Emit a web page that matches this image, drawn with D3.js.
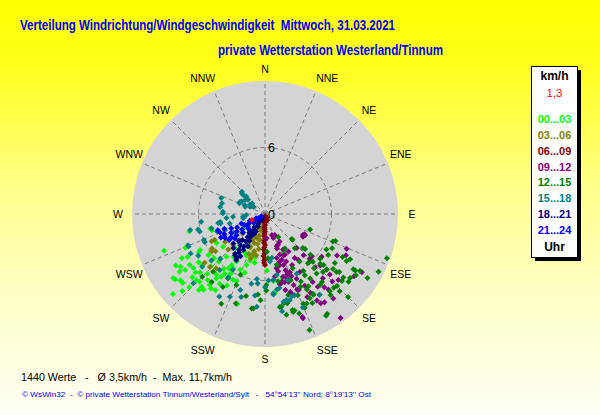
<!DOCTYPE html>
<html><head><meta charset="utf-8">
<script src="https://cdn.jsdelivr.net/npm/d3@7"></script>
<style>html,body{margin:0;padding:0;overflow:hidden}svg{display:block}</style>
</head><body>
<script>
// ---------- texts ----------
const title1 = "Verteilung Windrichtung/Windgeschwindigkeit  Mittwoch, 31.03.2021";
const title2 = "private Wetterstation Westerland/Tinnum";
const footer1 = "1440 Werte   -   \u00D8 3,5km/h  -  Max. 11,7km/h";
const footer2 = "\u00A9 WsWin32  -  \u00A9 private Wetterstation Tinnum/Westerland/Sylt   -   54\u00B054'13'' Nord; 8\u00B019'13'' Ost";
const dirNames = ["N","NNE","NE","ENE","E","ESE","SE","SSE","S","SSW","SW","WSW","W","WNW","NW","NNW"];
const ringTicks = [0, 6];
const speedMax = 12;
const legendTitle = "km/h";
const currentLabel = "1,3";
const legendFooter = "Uhr";
const legendLabels = ["00...03","03...06","06...09","09...12","12...15","15...18","18...21","21...24"];
const legendColors = ["#00ff00","#808000","#800000","#800080","#008000","#008080","#000080","#0000ff"];

// ---------- data: [direction in degrees, speed in km/h] ----------
const s00_03 = [[250,9.7],[229,11.0],[234,10.0],[232,9.7],[230,9.7],[242,8.5],[241,8.0],[236,8.2],[233,8.1],[230,8.2],[229,8.7],[226,8.6],[224,8.5],[221,8.7],[219,8.8],[221,9.1],[218,8.1],[216,8.3],[213,8.2],[217,7.3],[213,7.5],[215,6.9],[214,6.5],[208,7.3],[214,5.9],[213,5.5],[211,5.0],[212,4.5],[221,4.1],[212,3.7],[204,4.1],[204,5.5],[200,4.9],[198,4.4],[193,4.0],[253,5.0],[197,8.5],[239,5.1],[232,4.8],[234,6.3],[231,7.3],[224,7.5],[234,7.4],[224,6.0],[222,5.2],[205,3.2],[197,3.6],[237,2.3],[237,1.8],[257,7.0],[255,5.1],[173,6.1],[168,6.5],[178,5.1],[198,3.9],[192,4.5],[199,1.4],[235,10.1],[238,9.0],[227,10.2],[236,9.3],[228,7.9],[219,7.0],[210,6.2],[206,6.6],[226,6.8],[240,6.9],[247,7.8],[216,4.8],[208,3.9],[240,9.3],[235,8.8],[226,9.5],[221,7.9],[217,6.2],[210,5.7],[203,6.6],[199,5.6],[229,6.1],[241,6.7],[173,7.2],[154,3.8],[167,4.9],[165,6.0]];
const s03_06 = [[235,4.4],[226,4.0],[237,5.7],[233,5.6],[225,5.7],[231,7.0],[226,6.9],[222,6.6],[196,3.8],[205,3.2],[199,2.3],[226,4.6],[224,3.3],[242,4.1],[230,2.7],[243,5.1],[243,5.4],[235,5.9],[190,0.8],[193,1.2],[189,1.6],[195,2.0],[191,2.4],[194,2.8],[190,3.2],[196,3.5],[192,3.8],[201,1.5],[203,2.2],[200,2.8],[204,3.3],[202,3.9],[198,4.2],[206,2.6]];
const s06_09 = [[181,0.2],[180,0.4],[182,0.6],[181,0.8],[180,1.0],[182,1.2],[181,1.4],[180,1.6],[181,1.8],[182,2.0],[180,2.2],[181,2.4],[182,2.6],[180,2.8],[181,3.0],[182,3.2],[180,3.4],[181,3.6],[182,3.8],[180,4.0],[181,4.2],[181,4.4],[180,4.6],[178,0.5],[184,0.7],[150,0.4],[210,0.4],[160,0.6],[200,0.6]];
const s09_12 = [[161,2.3],[155,2.1],[176,2.2],[161,3.3],[157,3.0],[160,3.9],[160,4.4],[160,4.9],[156,4.7],[160,5.4],[157,5.7],[157,6.1],[164,5.9],[161,6.5],[158,6.9],[154,6.5],[149,6.1],[146,4.8],[137,5.1],[118,4.1],[135,5.7],[137,6.6],[133,6.8],[132,7.5],[133,8.0],[138,7.8],[135,8.6],[148,9.5],[144,11.6],[160,9.9],[137,4.2],[140,8.9],[141,8.5],[165,7.1],[148,4.0],[161,7.7],[145,7.5],[144,8.1],[151,7.4],[153,8.4],[167,5.3],[166,6.3],[162,7.4],[157,7.4],[164,4.8],[165,4.1],[154,4.1],[152,5.2],[161,6.1],[168,6.5],[171,5.7],[162,2.0],[160,3.1],[153,3.6],[119,3.9],[120,7.5],[117,8.2],[121,10.2],[160,10.0],[117,4.0],[121,4.0],[113,8.0],[125,9.8],[132,8.9],[141,9.8],[146,9.6],[127,6.4],[132,5.7],[144,5.1],[150,8.2],[149,9.1],[152,2.8],[156,4.1],[168,5.0],[157,5.7],[164,6.4],[156,7.5],[163,4.5],[160,5.8]];
const s12_15 = [[150,2.4],[133,3.4],[109,4.3],[139,4.1],[132,4.6],[150,3.6],[132,5.5],[144,5.3],[139,5.9],[135,6.1],[129,6.4],[131,7.0],[132,7.5],[129,7.9],[128,8.5],[120,8.5],[111,6.8],[117,6.8],[120,6.4],[129,9.1],[135,9.2],[135,10.6],[124,9.9],[122,9.6],[122,10.9],[110,11.7],[117,11.5],[140,9.1],[152,8.6],[157,8.8],[158,7.9],[164,9.2],[161,9.5],[148,10.6],[159,11.2],[166,8.3],[170,8.5],[149,8.4],[146,8.8],[140,8.0],[139,7.1],[153,5.5],[159,6.4],[147,6.6],[154,7.3],[149,7.6],[136,9.7],[119,8.0],[118,8.7],[152,9.1],[167,4.7],[177,3.4],[176,4.0],[129,9.7],[121,10.0],[169,6.2],[206,9.0],[198,8.5],[210,7.6],[193,7.6],[188,8.6],[185,7.3],[225,8.0],[218,7.8],[210,6.7],[202,6.9],[202,5.9],[222,7.0],[179,6.4],[187,8.6],[179,6.9],[183,7.8],[168,9.3],[164,9.0],[157,9.2],[133,3.3],[131,4.8],[112,6.6],[122,9.4],[127,9.6],[131,9.2],[137,9.1],[141,9.4],[142,8.1],[145,7.1],[146,6.2],[138,6.6],[135,7.4],[132,6.7],[137,5.9],[152,6.9],[151,7.8],[149,8.5],[155,8.9],[163,9.1],[168,8.2],[171,8.5],[149,10.7],[164,7.6],[129,8.3],[125,7.7],[123,6.8]];
const s15_18 = [[290,4.2],[273,3.8],[279,4.1],[312,2.8],[313,2.3],[290,1.9],[309,1.5],[298,2.4],[263,2.0],[311,2.6],[310,2.0],[296,2.5],[284,4.0],[271,3.8],[260,4.1],[264,3.5],[255,3.3],[239,3.3],[248,3.9],[250,4.6],[255,5.0],[263,5.8],[255,6.1],[245,6.0],[238,7.1],[242,7.6],[248,7.5],[229,6.4],[225,5.7],[221,3.5],[211,3.2],[210,1.8],[198,7.2],[191,6.4],[187,5.9],[173,6.0],[171,6.9],[210,5.8],[219,6.5],[210,6.6],[230,7.4],[177,6.0],[180,6.6],[174,7.3],[169,6.8],[161,6.3],[164,8.1],[170,8.9],[152,6.1],[174,4.3],[162,7.8],[258,6.9],[257,6.2],[247,7.5],[247,6.0],[258,4.1],[226,9.0],[209,8.5],[203,8.1],[196,7.8],[187,7.4],[186,6.3],[185,8.4],[314,2.9],[305,2.2],[301,1.6],[302,1.2],[293,2.5],[259,4.3],[265,2.9],[267,1.7],[259,2.0],[294,2.0],[296,1.5],[171,4.0],[174,7.2],[168,8.1],[166,8.0],[160,7.8],[158,9.1],[146,8.8],[169,5.6]];
const s18_21 = [[215,0.4],[212,0.7],[218,0.9],[214,1.1],[210,1.3],[219,1.5],[213,1.7],[216,1.9],[209,2.1],[220,2.2],[212,2.4],[217,2.6],[210,2.8],[215,3.0],[221,3.1],[208,3.3],[213,3.5],[218,3.6],[211,3.8],[216,4.0],[214,4.2],[210,4.4],[217,4.5],[213,4.7],[222,2.0],[224,3.4],[207,1.8],[212,4.9],[227,3.9],[223,4.2],[216,4.6]];
const s21_24 = [[240,0.4],[236,0.7],[244,0.9],[238,1.1],[232,1.3],[246,1.5],[240,1.7],[234,1.9],[242,2.1],[248,2.3],[236,2.5],[230,2.6],[244,2.8],[238,3.0],[233,3.2],[247,3.3],[241,3.5],[236,3.7],[250,3.9],[244,4.1],[239,4.2],[234,4.0],[248,4.4],[242,4.5],[229,2.0],[231,3.5],[251,4.5],[235,3.8]];
const currentValue = [[245,1.3]];

const seriesList = [s00_03,s03_06,s06_09,s09_12,s12_15,s15_18,s18_21,s21_24];

// ---------- layout ----------
const W = 600, H = 415, cx = 265, cy = 214, R = 133;
const font = "'Liberation Sans', Arial, sans-serif";

const svg = d3.select("body").append("svg").attr("width", W).attr("height", H);
const defs = svg.append("defs");
const bg = defs.append("linearGradient").attr("id","bg").attr("x1",0).attr("y1",0).attr("x2",0).attr("y2",1);
[[0,"#ffff00"],[0.15,"#ffff1a"],[0.45,"#ffff8a"],[0.7,"#ffffc4"],[1,"#fffff6"]].forEach(s=>bg.append("stop").attr("offset",s[0]).attr("stop-color",s[1]));
svg.append("rect").attr("width",W).attr("height",H).attr("fill","url(#bg)");

const r = d3.scaleLinear().domain([0, speedMax]).range([0, R]);
const ang = d3.scaleLinear().domain([0, 360]).range([0, 2*Math.PI]);

const g = svg.append("g").attr("transform", `translate(${cx},${cy})`);
g.append("circle").attr("r", r(speedMax)).attr("fill", "#d4d4d4");

// grid
const dash = "4,3";
g.selectAll("line.spoke").data(d3.range(16)).join("line").attr("class","spoke")
  .attr("x1",0).attr("y1",0)
  .attr("x2", i => d3.pointRadial(ang(i*22.5), r(speedMax))[0])
  .attr("y2", i => d3.pointRadial(ang(i*22.5), r(speedMax))[1])
  .attr("stroke","#7a7a7a").attr("stroke-width",1).attr("stroke-dasharray",dash);
g.selectAll("circle.ring").data(ringTicks.filter(d=>d>0)).join("circle").attr("class","ring")
  .attr("r", d => r(d)).attr("fill","none").attr("stroke","#7a7a7a").attr("stroke-dasharray",dash);
g.selectAll("text.tick").data(ringTicks).join("text").attr("class","tick")
  .attr("x", 3).attr("y", d => -r(d)).attr("dy","0.36em")
  .attr("font-family", font).attr("font-size", 12.5).attr("fill","#000").text(d => d);

// direction labels
svg.append("g").selectAll("text").data(dirNames).join("text")
  .attr("x", (d,i) => { const a = ang(i*22.5); const s = Math.sin(a), c = Math.cos(a);
      let ex = (Math.abs(Math.abs(c)-0.924) < 0.01) ? 6*Math.sign(s) : 0;
      return cx + 147*s + ex; })
  .attr("y", (d,i) => { const a = ang(i*22.5); const c = Math.cos(a);
      let ey = (Math.abs(Math.abs(c)-0.383) < 0.01) ? -4*Math.sign(c) : 0;
      let rr = (Math.abs(Math.abs(c)-1) < 0.01) ? 145 : 147;
      return cy - rr*c + ey; })
  .attr("dy","0.36em").attr("text-anchor","middle")
  .attr("font-family", font).attr("font-size", 10.5).attr("fill","#000").text(d => d);

// points
const diamond = "M0,-3L3,0L0,3L-3,0Z";
seriesList.forEach((series, k) => {
  g.append("g").selectAll("path").data(series).join("path")
    .attr("d", diamond)
    .attr("transform", d => { const p = d3.pointRadial(ang(d[0]), r(d[1])); return `translate(${p[0]},${p[1]})`; })
    .attr("fill", legendColors[k]);
});
g.append("g").selectAll("path").data(currentValue).join("path")
  .attr("d", diamond)
  .attr("transform", d => { const p = d3.pointRadial(ang(d[0]), r(d[1])); return `translate(${p[0]},${p[1]})`; })
  .attr("fill", "#ff0000");

// titles
svg.append("text").attr("x",20).attr("y",30).attr("font-family","'Liberation Sans Narrow','Arial Narrow','Liberation Sans',Arial,sans-serif")
  .attr("font-weight","bold").attr("font-size",14.5).attr("fill","#0000ff")
  .attr("textLength",375).attr("lengthAdjust","spacingAndGlyphs").style("white-space","pre").text(title1);
svg.append("text").attr("x",218).attr("y",55).attr("font-family","'Liberation Sans Narrow','Arial Narrow','Liberation Sans',Arial,sans-serif")
  .attr("font-weight","bold").attr("font-size",14.5).attr("fill","#0000ff")
  .attr("textLength",225).attr("lengthAdjust","spacingAndGlyphs").text(title2);

// legend
const lx = 531, ly = 66, lw = 46, lh = 191;
svg.append("rect").attr("x",lx+4).attr("y",ly+4).attr("width",lw).attr("height",lh).attr("fill","#000");
svg.append("rect").attr("x",lx+0.5).attr("y",ly+0.5).attr("width",lw).attr("height",lh).attr("fill","#fff").attr("stroke","#000");
const lcx = lx + lw/2 + 0.5;
svg.append("text").attr("x",lcx).attr("y",76).attr("dy","0.36em").attr("text-anchor","middle")
  .attr("font-family",font).attr("font-weight","bold").attr("font-size",12).attr("fill","#000").text(legendTitle);
svg.append("text").attr("x",lcx).attr("y",93).attr("dy","0.36em").attr("text-anchor","middle")
  .attr("font-family",font).attr("font-size",11.5).attr("fill","#ff0000").text(currentLabel);
svg.append("g").selectAll("text").data(legendLabels).join("text")
  .attr("x",lcx).attr("y",(d,i)=>119 + i*15.85).attr("dy","0.36em").attr("text-anchor","middle")
  .attr("font-family",font).attr("font-weight","bold").attr("font-size",11).attr("fill",(d,i)=>legendColors[i]).text(d=>d);
svg.append("text").attr("x",lcx).attr("y",247).attr("dy","0.36em").attr("text-anchor","middle")
  .attr("font-family",font).attr("font-weight","bold").attr("font-size",12).attr("fill","#000").text(legendFooter);

// footer
svg.append("text").attr("x",21).attr("y",381).attr("font-family",font).attr("font-size",11.5).attr("fill","#000")
  .attr("textLength",211).attr("lengthAdjust","spacingAndGlyphs").style("white-space","pre").text(footer1);
svg.append("text").attr("x",22).attr("y",397).attr("font-family",font).attr("font-size",8).attr("fill","#0000ff")
  .attr("textLength",349).attr("lengthAdjust","spacingAndGlyphs").style("white-space","pre").text(footer2);
</script>
</body></html>
